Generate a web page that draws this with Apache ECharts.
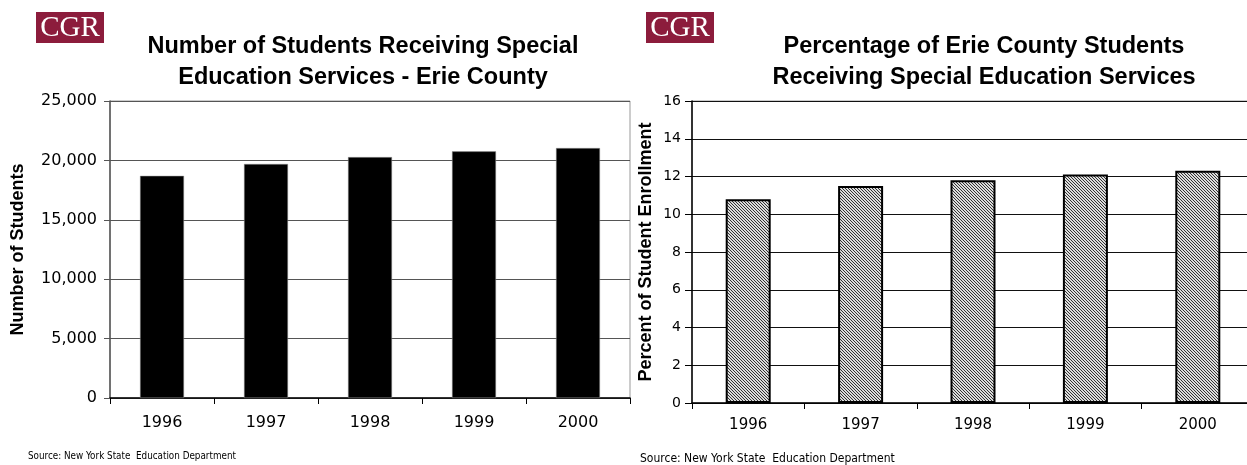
<!DOCTYPE html>
<html>
<head>
<meta charset="utf-8">
<script src="https://cdn.jsdelivr.net/npm/echarts@6/dist/echarts.min.js"></script>
<style>
  html, body { margin: 0; padding: 0; background: #fff; overflow: hidden; }
  #chart { width: 1262px; height: 465px; }
</style>
</head>
<body>
<div id="chart"></div>
<script>
// data
const years = ["1996", "1997", "1998", "1999", "2000"];
const studentCounts = [18700, 19700, 20280, 20760, 21040];
const percentEnrollment = [10.8, 11.5, 11.8, 12.1, 12.3];
const countTicks = { min: 0, max: 25000, interval: 5000 };
const percentTicks = { min: 0, max: 16, interval: 2 };

const leftTitle = "Number of Students Receiving Special\nEducation Services - Erie County";
const rightTitle = "Percentage of Erie County Students\nReceiving Special Education Services";
const sourceText = "Source: New York State  Education Department";

// fine hatch tile for the right bars
const makePattern = () => {
  const c = document.createElement("canvas");
  c.width = 3;
  c.height = 3;
  const ctx = c.getContext("2d");
  ctx.fillStyle = "#dcdcdc";
  ctx.fillRect(0, 0, 3, 3);
  ctx.fillStyle = "#333";
  for (let x = 0; x < 3; x++) {
    for (let y = 0; y < 3; y++) {
      if ((x - y + 3) % 3 === 0) ctx.fillRect(x, y, 1, 1);
    }
  }
  return c;
};

const labelFont = { fontFamily: "DejaVu Sans", color: "#000" };

const logo = (x) => [
  { type: "rect", shape: { x: x, y: 12, width: 68, height: 31 }, style: { fill: "#8c1c3c" } },
  {
    type: "text", x: x + 34, y: 28,
    style: { text: "CGR", fill: "#fff", font: "29px 'Liberation Serif'", textAlign: "center", textVerticalAlign: "middle" }
  }
];

const myChart = echarts.init(document.getElementById("chart"), null, { renderer: "canvas" });

const option = {
  animation: false,
  backgroundColor: "#fff",
  graphic: [
    ...logo(36),
    ...logo(646),
    {
      type: "text", x: 363, y: 31,
      style: { text: leftTitle, font: "bold 23.5px 'Liberation Sans'", fill: "#000", textAlign: "center", lineHeight: 31 }
    },
    {
      type: "text", x: 984, y: 31,
      style: { text: rightTitle, font: "bold 23.5px 'Liberation Sans'", fill: "#000", textAlign: "center", lineHeight: 31 }
    },
    {
      type: "text", x: 28, y: 451,
      style: { text: sourceText, font: "9.8px 'DejaVu Sans Condensed'", fill: "#000" }
    },
    {
      type: "text", x: 640, y: 453,
      style: { text: sourceText, font: "12px 'DejaVu Sans Condensed'", fill: "#000" }
    }
  ],
  grid: [
    { left: 110, top: 101, width: 520, height: 297, show: true, borderColor: "#999", borderWidth: 1 },
    { left: 692, top: 101, width: 562, height: 302, show: true, borderColor: "#999", borderWidth: 1 }
  ],
  xAxis: [
    {
      gridIndex: 0, type: "category", data: years,
      axisLine: { lineStyle: { color: "#000", width: 1.5 } },
      axisTick: { show: true, length: 6, lineStyle: { color: "#000" } },
      axisLabel: { ...labelFont, fontSize: 16, margin: 17 }
    },
    {
      gridIndex: 1, type: "category", data: years,
      axisLine: { lineStyle: { color: "#000", width: 1.5 } },
      axisTick: { show: true, length: 6, lineStyle: { color: "#000" } },
      axisLabel: { ...labelFont, fontSize: 15, margin: 15 }
    }
  ],
  yAxis: [
    {
      gridIndex: 0, type: "value", ...countTicks,
      name: "Number of Students", nameLocation: "middle", nameGap: 83,
      nameTextStyle: { fontFamily: "Liberation Sans", fontWeight: "bold", fontSize: 18, color: "#000" },
      axisLine: { show: true, lineStyle: { color: "#555", width: 1.5 } },
      axisTick: { show: true, length: 6, lineStyle: { color: "#555" } },
      axisLabel: {
        ...labelFont, fontSize: 16, margin: 13,
        formatter: (v) => v.toLocaleString("en-US")
      },
      splitLine: { lineStyle: { color: "#555", width: 1 } }
    },
    {
      gridIndex: 1, type: "value", ...percentTicks,
      name: "Percent of Student Enrollment", nameLocation: "middle", nameGap: 37,
      nameTextStyle: { fontFamily: "Liberation Sans", fontWeight: "bold", fontSize: 18, color: "#000" },
      axisLine: { show: true, lineStyle: { color: "#000", width: 1.5 } },
      axisTick: { show: true, length: 7, lineStyle: { color: "#000" } },
      axisLabel: { ...labelFont, fontSize: 14, margin: 11 },
      splitLine: { lineStyle: { color: "#111", width: 1 } }
    }
  ],
  series: [
    {
      name: "Students", type: "bar", xAxisIndex: 0, yAxisIndex: 0,
      data: studentCounts, barWidth: 44,
      itemStyle: { color: "#000", borderColor: "#999", borderWidth: 0.5 }
    },
    {
      name: "Percent", type: "bar", xAxisIndex: 1, yAxisIndex: 1,
      data: percentEnrollment, barWidth: 45,
      itemStyle: {
        color: { image: makePattern(), repeat: "repeat" },
        borderColor: "#000", borderWidth: 2
      }
    }
  ]
};

myChart.setOption(option);
</script>
</body>
</html>
